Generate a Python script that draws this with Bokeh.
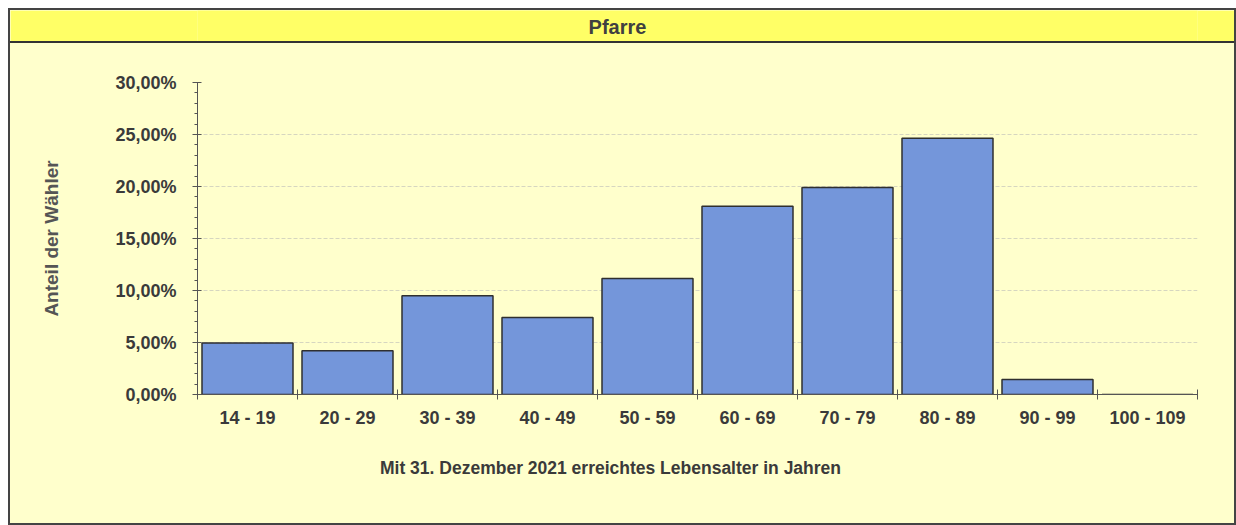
from bokeh.plotting import figure
from bokeh.layouts import column
from bokeh.models import Range1d, FixedTicker, ColumnDataSource
from bokeh.core.properties import value
from bokeh.embed import file_html
from bokeh.resources import INLINE

# ---- data ----
categories = ["14 - 19", "20 - 29", "30 - 39", "40 - 49", "50 - 59",
              "60 - 69", "70 - 79", "80 - 89", "90 - 99", "100 - 109"]
shares = [4.95, 4.2, 9.5, 7.4, 11.15, 18.1, 19.9, 24.65, 1.45, 0.0]
y_tick_values = [0, 5, 10, 15, 20, 25, 30]
y_tick_labels = ["0,00%", "5,00%", "10,00%", "15,00%", "20,00%", "25,00%", "30,00%"]
title_text = "Pfarre"
y_label = "Anteil der Wähler"
x_label = "Mit 31. Dezember 2021 erreichtes Lebensalter in Jahren"

FONT = "Liberation Sans"
BODY = "#FFFFCC"
BAND = "#FFFF66"
TXT = "#3a3a3a"
INNER_W = 1224
ML, MR = 187, 37   # frame insets, shared by all stacked figures
X0 = 10            # page x of the inner box's left edge


def bare(height, color, y_range=(0, 1)):
    f = figure(width=INNER_W, height=height,
               x_range=Range1d(ML + X0, INNER_W - MR + X0), y_range=Range1d(*y_range),
               output_backend="svg", toolbar_location=None,
               min_border_left=ML, min_border_right=MR, min_border_top=0, min_border_bottom=0)
    f.axis.visible = False
    f.grid.visible = False
    f.background_fill_color = color
    f.border_fill_color = color
    f.outline_line_color = None
    return f


# ---- header band ----
head = bare(33, BAND)
head.text(x=[617], y=[0.5], text=[title_text], text_align="center", text_baseline="middle",
          text_font=value(FONT), text_font_style="bold", text_font_size="20px",
          text_color="#404040")
head.styles = {"border-bottom": "2px solid #333333"}

# ---- main chart ----
n = len(categories)
positions = [i + 0.5 for i in range(n)]
src = ColumnDataSource(dict(x=positions, top=shares, cat=categories))

p = figure(width=INNER_W, height=391, x_range=Range1d(0, n), y_range=Range1d(0, 30),
           output_backend="svg", toolbar_location=None,
           min_border_left=ML, min_border_right=MR, min_border_top=39, min_border_bottom=40)
p.background_fill_color = BODY
p.border_fill_color = BODY
p.outline_line_color = None

p.vbar(x="x", top="top", width=0.91, source=src, fill_color="#7496DA",
       line_color="#2f2f2f", line_width=1.5)

# y axis
ya = p.yaxis[0]
ya.ticker = FixedTicker(ticks=y_tick_values, minor_ticks=list(range(0, 31)))
ya.major_label_overrides = {v: l for v, l in zip(y_tick_values, y_tick_labels)}
ya.major_tick_out = 5
ya.major_tick_in = 4
ya.minor_tick_out = 3
ya.minor_tick_in = 0
ya.axis_line_color = "#555555"
ya.major_tick_line_color = "#555555"
ya.minor_tick_line_color = "#555555"
ya.major_label_text_font = FONT
ya.major_label_text_font_style = "bold"
ya.major_label_text_font_size = "18px"
ya.major_label_text_color = TXT
ya.major_label_standoff = 16
ya.axis_label = y_label
ya.axis_label_text_font = FONT
ya.axis_label_text_font_style = "bold"
ya.axis_label_text_font_size = "19px"
ya.axis_label_text_color = "#555555"
ya.axis_label_standoff = 50

# x axis
xa = p.xaxis[0]
xa.ticker = FixedTicker(ticks=positions, minor_ticks=list(range(0, n + 1)))
xa.major_label_overrides = {pos: c for pos, c in zip(positions, categories)}
xa.major_tick_line_color = None
xa.major_tick_out = 0
xa.major_tick_in = 0
xa.minor_tick_out = 5
xa.minor_tick_in = 5
xa.minor_tick_line_color = "#555555"
xa.axis_line_color = "#555555"
xa.major_label_text_font = FONT
xa.major_label_text_font_style = "bold"
xa.major_label_text_font_size = "18px"
xa.major_label_text_color = TXT
xa.major_label_standoff = 8

p.xgrid.visible = False
p.ygrid.ticker = FixedTicker(ticks=y_tick_values)
p.ygrid.grid_line_color = "#d6d6c0"
p.ygrid.grid_line_dash = "4 2"

# ---- footer with the x-axis title (page-like y coordinates, downward) ----
foot = bare(89, BODY, y_range=(523, 434))
foot.text(x=[610], y=[467], text=[x_label], text_align="center", text_baseline="middle",
          text_font=value(FONT), text_font_style="bold", text_font_size="17.5px",
          text_color=TXT)

inner = column(head, p, foot, spacing=0,
               styles={"border": "2px solid #444444", "background-color": BODY})
outer = column(inner, styles={"padding-left": "8px", "padding-top": "8px",
                              "background-color": "#ffffff"})

open("out.html", "w").write(file_html(outer, INLINE))
